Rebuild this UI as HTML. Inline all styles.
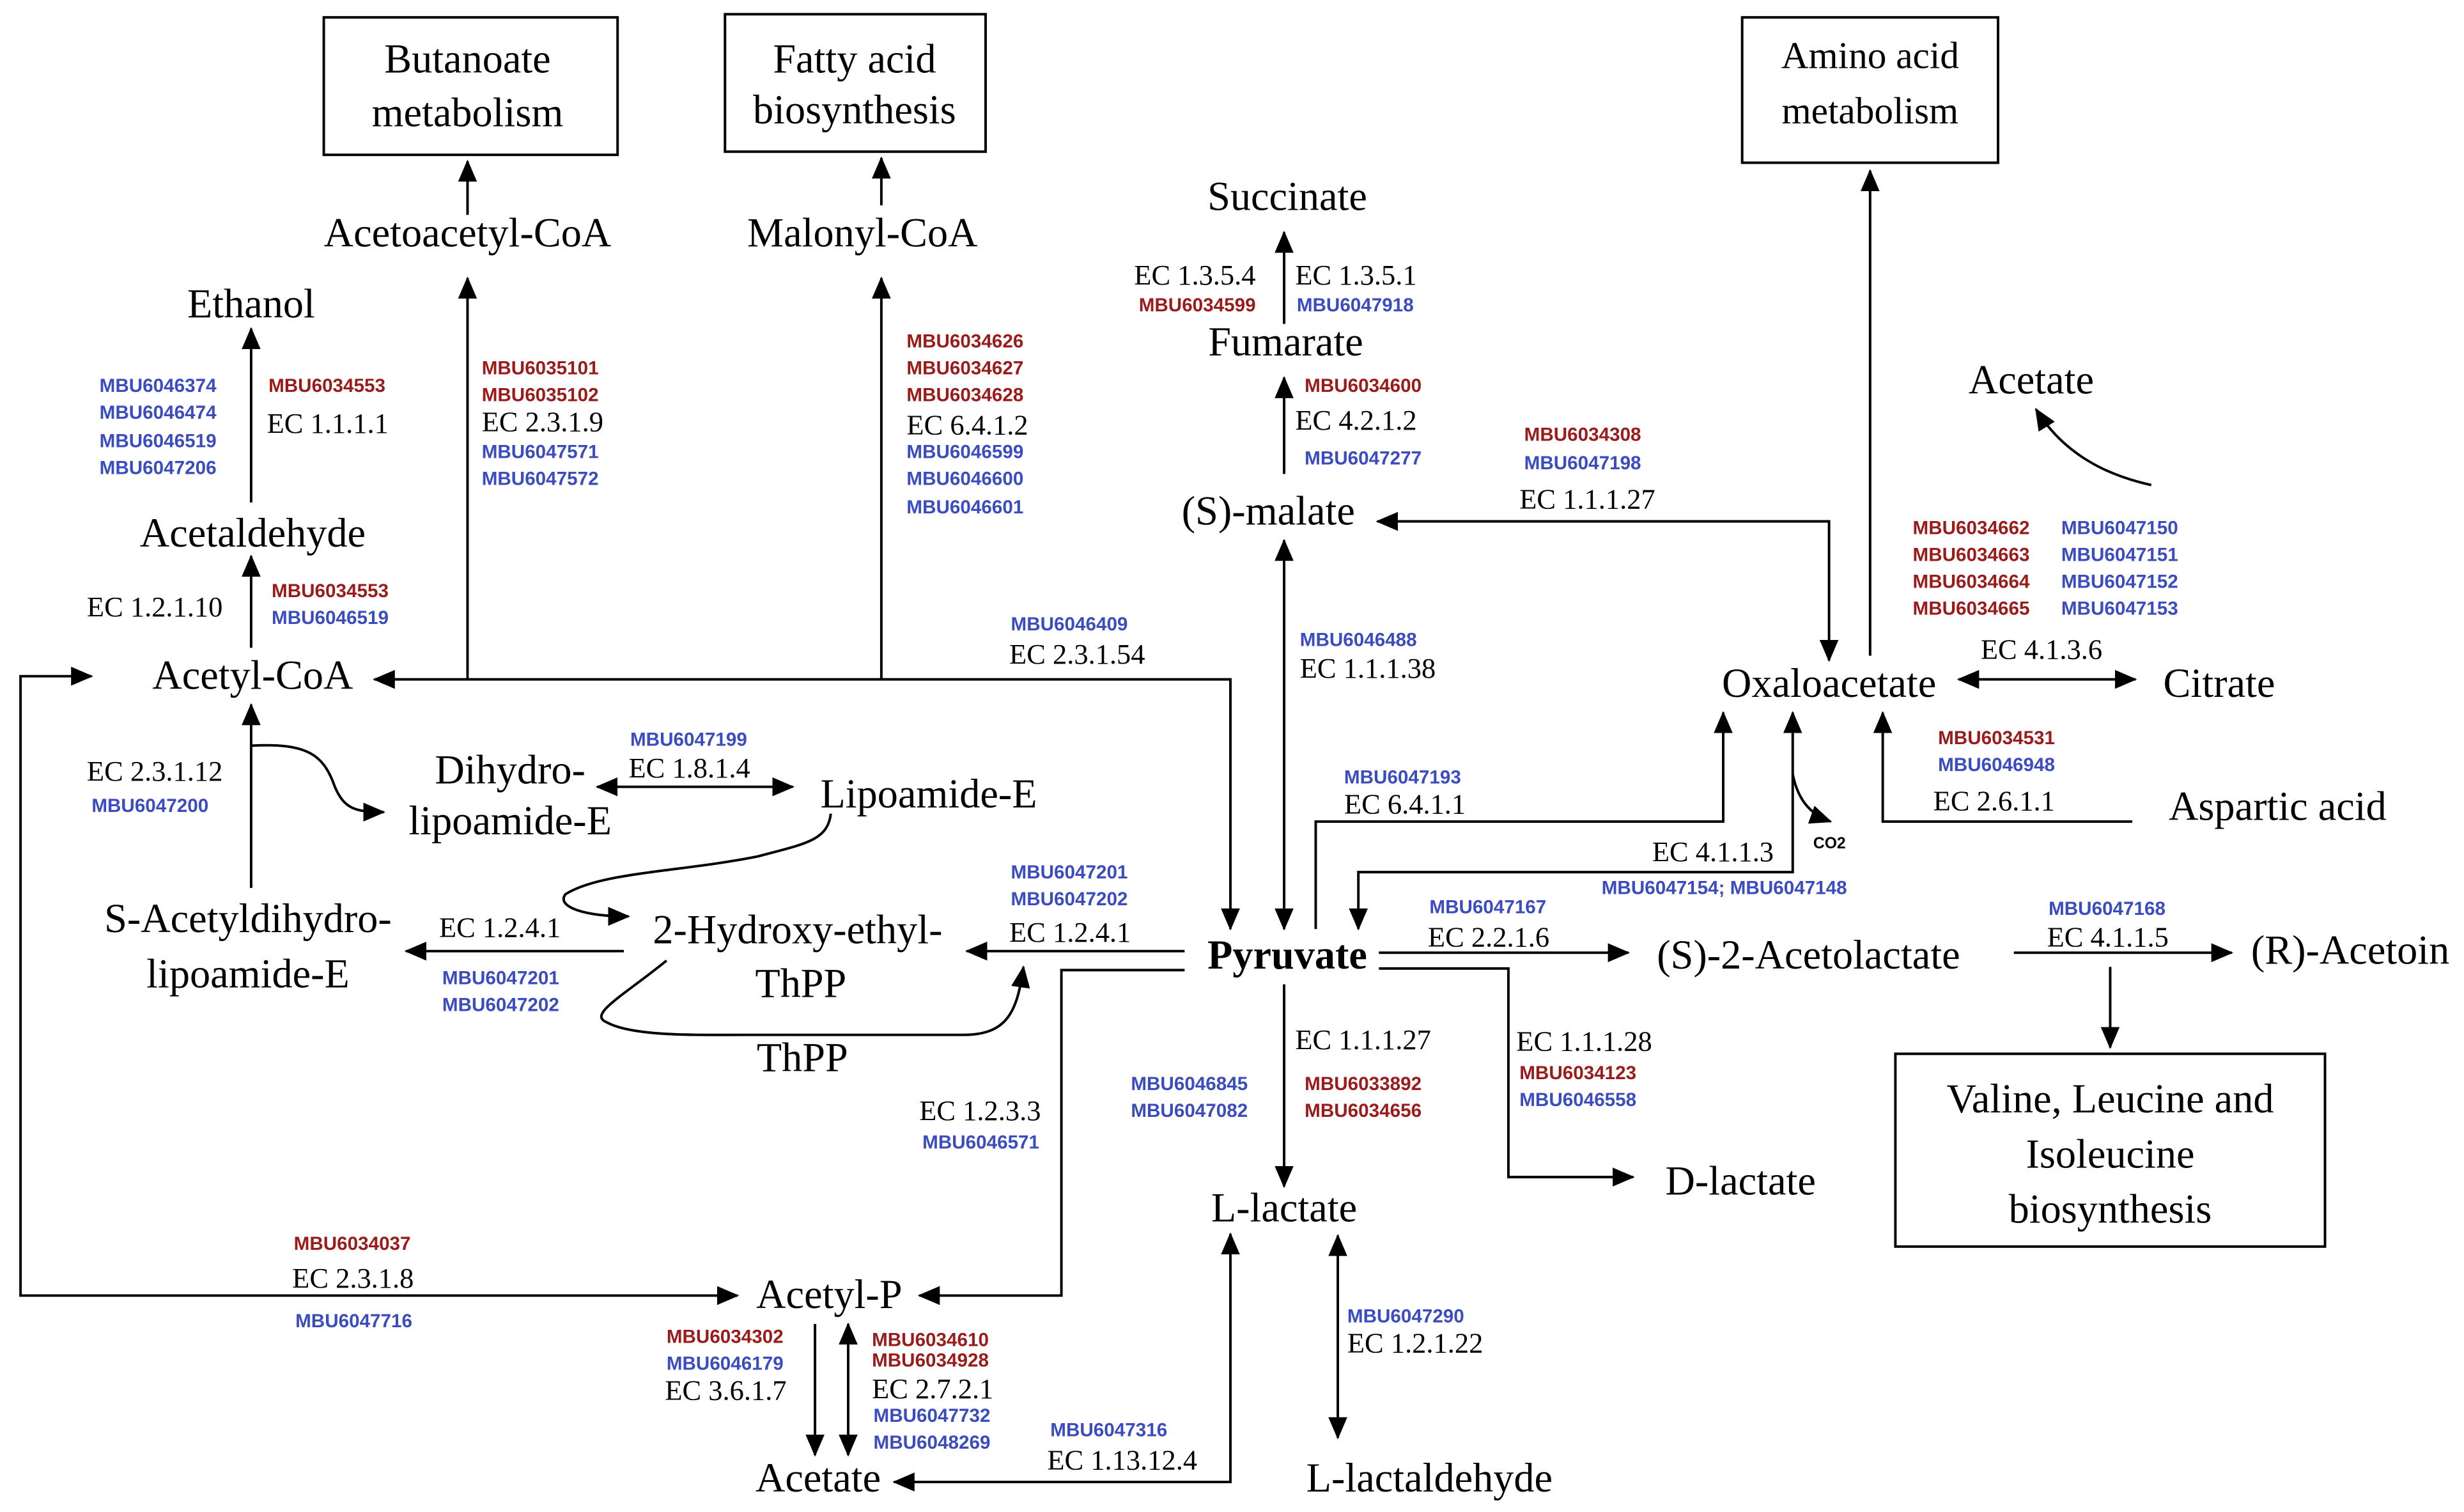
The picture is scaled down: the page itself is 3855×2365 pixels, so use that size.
<!DOCTYPE html>
<html><head><meta charset="utf-8"><style>
html,body{margin:0;padding:0;background:#fff;}
svg{display:block;}
.n{font-family:"Liberation Serif",serif;font-size:26px;fill:#000;text-anchor:middle;}
.e{font-family:"Liberation Serif",serif;font-size:18px;fill:#000;}
.r{font-family:"Liberation Sans",sans-serif;font-weight:bold;font-size:12px;fill:#9B1B1B;}
.b{font-family:"Liberation Sans",sans-serif;font-weight:bold;font-size:12px;fill:#3B4CC0;}
.l{fill:none;stroke:#000;stroke-width:1.6;}
</style></head><body>
<svg width="3855" height="2365" viewBox="0 0 1560 957" preserveAspectRatio="none" xmlns="http://www.w3.org/2000/svg">
<defs>
<marker id="a" markerUnits="userSpaceOnUse" markerWidth="14" markerHeight="14" viewBox="0 0 14 14" refX="13" refY="7" orient="auto-start-reverse">
<path d="M0,1 L14,7 L0,13 Z" fill="#000"/></marker>
</defs>
<g class="l">
<rect x="205" y="11" width="186" height="87"/>
<rect x="459" y="9" width="165" height="87"/>
<rect x="1103" y="11" width="162" height="92"/>
<rect x="1200" y="667" width="272" height="122"/>
</g>
<g class="l">
<line x1="296" y1="136" x2="296" y2="102" marker-end="url(#a)"/>
<line x1="558" y1="130" x2="558" y2="100" marker-end="url(#a)"/>
<line x1="296" y1="430" x2="296" y2="176" marker-end="url(#a)"/>
<line x1="558" y1="430" x2="558" y2="176" marker-end="url(#a)"/>
<polyline points="779,588 779,430 237,430" marker-start="url(#a)" marker-end="url(#a)"/>
<line x1="159" y1="318" x2="159" y2="208" marker-end="url(#a)"/>
<line x1="159" y1="410" x2="159" y2="352" marker-end="url(#a)"/>
<line x1="159" y1="562" x2="159" y2="446" marker-end="url(#a)"/>
<path d="M159,472 C195,470 205,478 212,498 C218,512 225,514 243,514" marker-end="url(#a)"/>
<polyline points="58,428 13,428 13,820 467,820" marker-start="url(#a)" marker-end="url(#a)"/>
<line x1="378" y1="498" x2="502" y2="498" marker-start="url(#a)" marker-end="url(#a)"/>
<path d="M526,515 C524,532 510,534 480,542 C430,552 380,552 358,566 C352,574 370,580 398,580" marker-end="url(#a)"/>
<line x1="395" y1="602" x2="257" y2="602" marker-end="url(#a)"/>
<line x1="750" y1="602" x2="612" y2="602" marker-end="url(#a)"/>
<path d="M422,608 C395,630 372,642 384,647 C400,656 440,655 470,655 L610,655 C638,655 644,640 648,612" marker-end="url(#a)"/>
<line x1="813" y1="342" x2="813" y2="588" marker-start="url(#a)" marker-end="url(#a)"/>
<line x1="813" y1="300" x2="813" y2="239" marker-end="url(#a)"/>
<line x1="813" y1="205" x2="813" y2="147" marker-end="url(#a)"/>
<polyline points="1158,418 1158,330 872,330" marker-start="url(#a)" marker-end="url(#a)"/>
<line x1="1184" y1="415" x2="1184" y2="108" marker-end="url(#a)"/>
<path d="M1362,307 C1330,300 1305,285 1289,259" marker-end="url(#a)"/>
<line x1="1240" y1="430" x2="1352" y2="430" marker-start="url(#a)" marker-end="url(#a)"/>
<polyline points="1350,520 1192,520 1192,451" marker-end="url(#a)"/>
<polyline points="833,588 833,520 1091,520 1091,451" marker-end="url(#a)"/>
<polyline points="1135,451 1135,552 860,552 860,588" marker-start="url(#a)" marker-end="url(#a)"/>
<path d="M1135,490 C1138,505 1145,515 1159,520" marker-end="url(#a)"/>
<line x1="873" y1="603" x2="1031" y2="603" marker-end="url(#a)"/>
<line x1="1275" y1="603" x2="1413" y2="603" marker-end="url(#a)"/>
<line x1="1336" y1="612" x2="1336" y2="663" marker-end="url(#a)"/>
<polyline points="873,613 955,613 955,745 1034,745" marker-end="url(#a)"/>
<line x1="813" y1="623" x2="813" y2="751" marker-end="url(#a)"/>
<line x1="847" y1="782" x2="847" y2="910" marker-start="url(#a)" marker-end="url(#a)"/>
<polyline points="779,781 779,938 566,938" marker-start="url(#a)" marker-end="url(#a)"/>
<polyline points="750,614 672,614 672,820 582,820" marker-end="url(#a)"/>
<line x1="516" y1="838" x2="516" y2="921" marker-end="url(#a)"/>
<line x1="537" y1="838" x2="537" y2="921" marker-start="url(#a)" marker-end="url(#a)"/>
</g>
<g class="n">
<text x="296" y="46">Butanoate</text><text x="296" y="80">metabolism</text>
<text x="541" y="46">Fatty acid</text><text x="541" y="78">biosynthesis</text>
<text x="1184" y="43" style="font-size:24px">Amino acid</text><text x="1184" y="78" style="font-size:24px">metabolism</text>
<text x="1336" y="704">Valine, Leucine and</text><text x="1336" y="739">Isoleucine</text><text x="1336" y="774">biosynthesis</text>
<text x="296" y="156">Acetoacetyl-CoA</text>
<text x="546" y="156">Malonyl-CoA</text>
<text x="815" y="133">Succinate</text>
<text x="159" y="201">Ethanol</text>
<text x="814" y="225">Fumarate</text>
<text x="1286" y="249">Acetate</text>
<text x="160" y="346">Acetaldehyde</text>
<text x="803" y="332">(S)-malate</text>
<text x="160" y="436">Acetyl-CoA</text>
<text x="1158" y="441">Oxaloacetate</text>
<text x="1405" y="441">Citrate</text>
<text x="323" y="496">Dihydro-</text><text x="323" y="528">lipoamide-E</text>
<text x="588" y="511">Lipoamide-E</text>
<text x="1442" y="519">Aspartic acid</text>
<text x="157" y="590">S-Acetyldihydro-</text><text x="157" y="625">lipoamide-E</text>
<text x="505" y="597">2-Hydroxy-ethyl-</text><text x="507" y="631">ThPP</text>
<text x="815" y="613" style="font-weight:bold">Pyruvate</text>
<text x="1145" y="613">(S)-2-Acetolactate</text>
<text x="1488" y="610">(R)-Acetoin</text>
<text x="508" y="678">ThPP</text>
<text x="1102" y="756">D-lactate</text>
<text x="813" y="773">L-lactate</text>
<text x="525" y="828">Acetyl-P</text>
<text x="518" y="944">Acetate</text>
<text x="905" y="944">L-lactaldehyde</text>
</g>
<g class="e">
<text x="718" y="180">EC 1.3.5.4</text><text x="820" y="180">EC 1.3.5.1</text>
<text x="820" y="272">EC 4.2.1.2</text>
<text x="962" y="322">EC 1.1.1.27</text>
<text x="169" y="274">EC 1.1.1.1</text>
<text x="305" y="273">EC 2.3.1.9</text>
<text x="574" y="275">EC 6.4.1.2</text>
<text x="55" y="390">EC 1.2.1.10</text>
<text x="639" y="420">EC 2.3.1.54</text>
<text x="823" y="429">EC 1.1.1.38</text>
<text x="1254" y="417">EC 4.1.3.6</text>
<text x="1224" y="513">EC 2.6.1.1</text>
<text x="55" y="494">EC 2.3.1.12</text>
<text x="398" y="492">EC 1.8.1.4</text>
<text x="851" y="515">EC 6.4.1.1</text>
<text x="1046" y="545">EC 4.1.1.3</text>
<text x="639" y="596">EC 1.2.4.1</text>
<text x="278" y="593">EC 1.2.4.1</text>
<text x="904" y="599">EC 2.2.1.6</text>
<text x="1296" y="599">EC 4.1.1.5</text>
<text x="820" y="664">EC 1.1.1.27</text>
<text x="960" y="665">EC 1.1.1.28</text>
<text x="582" y="709">EC 1.2.3.3</text>
<text x="185" y="815">EC 2.3.1.8</text>
<text x="421" y="886">EC 3.6.1.7</text>
<text x="552" y="885">EC 2.7.2.1</text>
<text x="663" y="930">EC 1.13.12.4</text>
<text x="853" y="856">EC 1.2.1.22</text>
</g>
<text x="1148" y="537" style="font-family:'Liberation Sans',sans-serif;font-weight:bold;font-size:10px">CO2</text>
<g class="r">
<text x="721" y="197">MBU6034599</text>
<text x="826" y="248">MBU6034600</text>
<text x="965" y="279">MBU6034308</text>
<text x="170" y="248">MBU6034553</text>
<text x="305" y="237">MBU6035101</text><text x="305" y="254">MBU6035102</text>
<text x="574" y="220">MBU6034626</text><text x="574" y="237">MBU6034627</text><text x="574" y="254">MBU6034628</text>
<text x="172" y="378">MBU6034553</text>
<text x="1211" y="338">MBU6034662</text><text x="1211" y="355">MBU6034663</text><text x="1211" y="372">MBU6034664</text><text x="1211" y="389">MBU6034665</text>
<text x="1227" y="471">MBU6034531</text>
<text x="826" y="690">MBU6033892</text><text x="826" y="707">MBU6034656</text>
<text x="962" y="683">MBU6034123</text>
<text x="186" y="791">MBU6034037</text>
<text x="422" y="850">MBU6034302</text>
<text x="552" y="852">MBU6034610</text><text x="552" y="865">MBU6034928</text>
</g>
<g class="b">
<text x="821" y="197">MBU6047918</text>
<text x="826" y="294">MBU6047277</text>
<text x="965" y="297">MBU6047198</text>
<text x="63" y="248">MBU6046374</text><text x="63" y="265">MBU6046474</text><text x="63" y="283">MBU6046519</text><text x="63" y="300">MBU6047206</text>
<text x="305" y="290">MBU6047571</text><text x="305" y="307">MBU6047572</text>
<text x="574" y="290">MBU6046599</text><text x="574" y="307">MBU6046600</text><text x="574" y="325">MBU6046601</text>
<text x="172" y="395">MBU6046519</text>
<text x="640" y="399">MBU6046409</text>
<text x="823" y="409">MBU6046488</text>
<text x="1305" y="338">MBU6047150</text><text x="1305" y="355">MBU6047151</text><text x="1305" y="372">MBU6047152</text><text x="1305" y="389">MBU6047153</text>
<text x="1227" y="488">MBU6046948</text>
<text x="58" y="514">MBU6047200</text>
<text x="399" y="472">MBU6047199</text>
<text x="851" y="496">MBU6047193</text>
<text x="1014" y="566">MBU6047154; MBU6047148</text>
<text x="640" y="556">MBU6047201</text><text x="640" y="573">MBU6047202</text>
<text x="280" y="623">MBU6047201</text><text x="280" y="640">MBU6047202</text>
<text x="905" y="578">MBU6047167</text>
<text x="1297" y="579">MBU6047168</text>
<text x="716" y="690">MBU6046845</text><text x="716" y="707">MBU6047082</text>
<text x="962" y="700">MBU6046558</text>
<text x="584" y="727">MBU6046571</text>
<text x="187" y="840">MBU6047716</text>
<text x="422" y="867">MBU6046179</text>
<text x="553" y="900">MBU6047732</text><text x="553" y="917">MBU6048269</text>
<text x="665" y="909">MBU6047316</text>
<text x="853" y="837">MBU6047290</text>
</g>
</svg>
</body></html>
